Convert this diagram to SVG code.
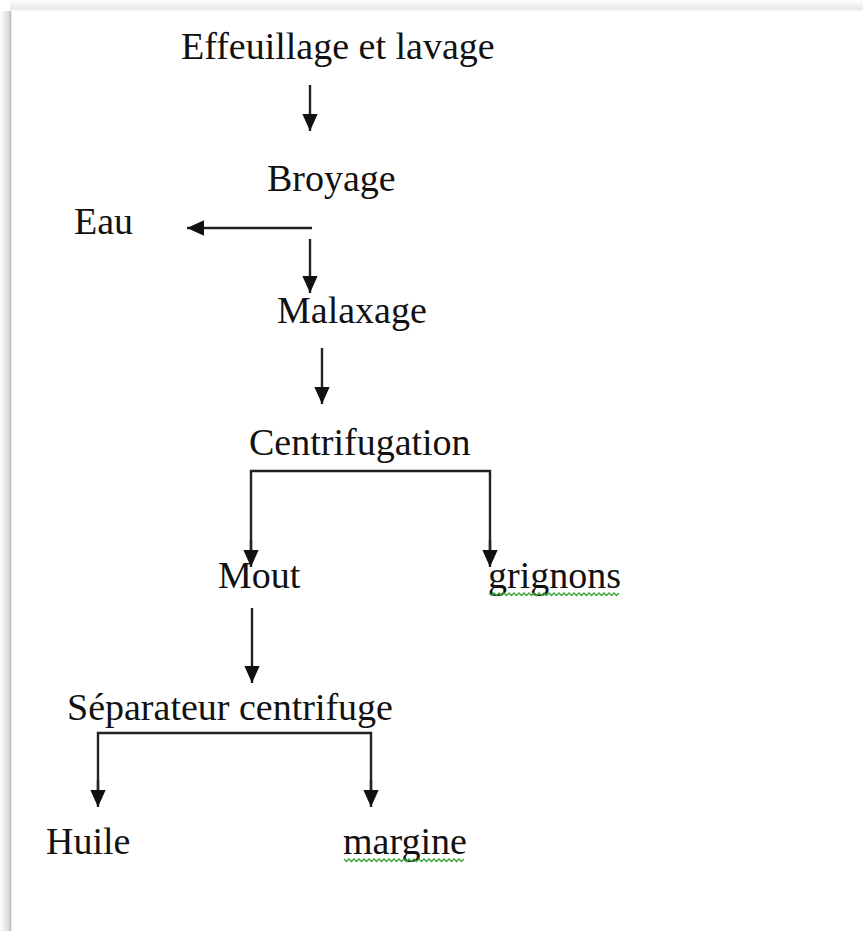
<svg xmlns="http://www.w3.org/2000/svg" width="863" height="931" viewBox="0 0 863 931">
  <defs>
    <marker id="head" viewBox="0 0 10 10" refX="10" refY="5" markerWidth="17" markerHeight="17" markerUnits="userSpaceOnUse" orient="auto">
      <path d="M0,0.5 L10,5 L0,9.5 Z" fill="#111"/>
    </marker>
    <linearGradient id="shadeL" x1="0" y1="0" x2="1" y2="0">
      <stop offset="0" stop-color="#ffffff"/>
      <stop offset="1" stop-color="#d4d4d4"/>
    </linearGradient>
    <linearGradient id="shadeT" x1="0" y1="0" x2="0" y2="1">
      <stop offset="0" stop-color="#ffffff"/>
      <stop offset="1" stop-color="#e6e6e6"/>
    </linearGradient>
  </defs>
  <style>
    .lbl { font-family: "Liberation Serif", "Times New Roman", serif; font-size: 38px; fill: #111; }
    .ln { stroke: #222; stroke-width: 2.4; fill: none; }
    .arr { stroke: #222; stroke-width: 2.4; fill: none; marker-end: url(#head); }
    .squig { stroke: #3aa63a; stroke-width: 1.3; fill: none; }
  </style>

  <!-- page background and edge shadow -->
  <rect x="0" y="0" width="863" height="931" fill="#ffffff"/>
  <rect x="0" y="11" width="10" height="920" fill="url(#shadeL)"/>
  <rect x="10" y="0" width="853" height="10" fill="url(#shadeT)"/>
  <line x1="10.5" y1="11" x2="10.5" y2="931" stroke="#bdbdbd" stroke-width="1.5"/>
  <line x1="11" y1="10" x2="863" y2="10" stroke="#ececec" stroke-width="1"/>

  <!-- connectors -->
  <g id="connectors">
    <line class="arr" x1="310" y1="85" x2="310" y2="131"/>
    <line class="ln" x1="312" y1="228" x2="200" y2="228"/>
    <line class="arr" x1="200" y1="228" x2="187" y2="228"/>
    <line class="arr" x1="310" y1="239" x2="310" y2="293"/>
    <line class="arr" x1="322" y1="348" x2="322" y2="404"/>
    <polyline class="ln" points="251,555 251,471 490,471 490,555"/>
    <line class="arr" x1="251" y1="540" x2="251" y2="567"/>
    <line class="arr" x1="490" y1="540" x2="490" y2="567"/>
    <line class="arr" x1="252" y1="608" x2="252" y2="683"/>
    <polyline class="ln" points="98,795 98,733 371,733 371,795"/>
    <line class="arr" x1="98" y1="780" x2="98" y2="807"/>
    <line class="arr" x1="371" y1="780" x2="371" y2="807"/>
  </g>

  <!-- nodes -->
  <g id="effeuillage"><text class="lbl" x="181" y="59">Effeuillage et lavage</text></g>
  <g id="broyage"><text class="lbl" x="267" y="191">Broyage</text></g>
  <g id="eau"><text class="lbl" x="74" y="234">Eau</text></g>
  <g id="malaxage"><text class="lbl" x="277" y="323">Malaxage</text></g>
  <g id="centrifugation"><text class="lbl" x="249" y="455">Centrifugation</text></g>
  <g id="mout"><text class="lbl" x="218" y="588">Mout</text></g>
  <g id="grignons">
    <text class="lbl" x="488" y="588">grignons</text>
    <path class="squig" d="M489,593 l2.5,2.5 l2.5,-2.5 l2.5,2.5 l2.5,-2.5 l2.5,2.5 l2.5,-2.5 l2.5,2.5 l2.5,-2.5 l2.5,2.5 l2.5,-2.5 l2.5,2.5 l2.5,-2.5 l2.5,2.5 l2.5,-2.5 l2.5,2.5 l2.5,-2.5 l2.5,2.5 l2.5,-2.5 l2.5,2.5 l2.5,-2.5 l2.5,2.5 l2.5,-2.5 l2.5,2.5 l2.5,-2.5 l2.5,2.5 l2.5,-2.5 l2.5,2.5 l2.5,-2.5 l2.5,2.5 l2.5,-2.5 l2.5,2.5 l2.5,-2.5 l2.5,2.5 l2.5,-2.5 l2.5,2.5 l2.5,-2.5 l2.5,2.5 l2.5,-2.5 l2.5,2.5 l2.5,-2.5 l2.5,2.5 l2.5,-2.5 l2.5,2.5 l2.5,-2.5 l2.5,2.5 l2.5,-2.5 l2.5,2.5 l2.5,-2.5 l2.5,2.5 l2.5,-2.5 l2.5,2.5 l2.5,-2.5"/>
  </g>
  <g id="separateur"><text class="lbl" x="67" y="720">Séparateur centrifuge</text></g>
  <g id="huile"><text class="lbl" x="46" y="854">Huile</text></g>
  <g id="margine">
    <text class="lbl" x="343" y="854">margine</text>
    <path class="squig" d="M344,859 l2.5,2.5 l2.5,-2.5 l2.5,2.5 l2.5,-2.5 l2.5,2.5 l2.5,-2.5 l2.5,2.5 l2.5,-2.5 l2.5,2.5 l2.5,-2.5 l2.5,2.5 l2.5,-2.5 l2.5,2.5 l2.5,-2.5 l2.5,2.5 l2.5,-2.5 l2.5,2.5 l2.5,-2.5 l2.5,2.5 l2.5,-2.5 l2.5,2.5 l2.5,-2.5 l2.5,2.5 l2.5,-2.5 l2.5,2.5 l2.5,-2.5 l2.5,2.5 l2.5,-2.5 l2.5,2.5 l2.5,-2.5 l2.5,2.5 l2.5,-2.5 l2.5,2.5 l2.5,-2.5 l2.5,2.5 l2.5,-2.5 l2.5,2.5 l2.5,-2.5 l2.5,2.5 l2.5,-2.5 l2.5,2.5 l2.5,-2.5 l2.5,2.5 l2.5,-2.5 l2.5,2.5 l2.5,-2.5 l2.5,2.5 l2.5,-2.5"/>
  </g>
</svg>
